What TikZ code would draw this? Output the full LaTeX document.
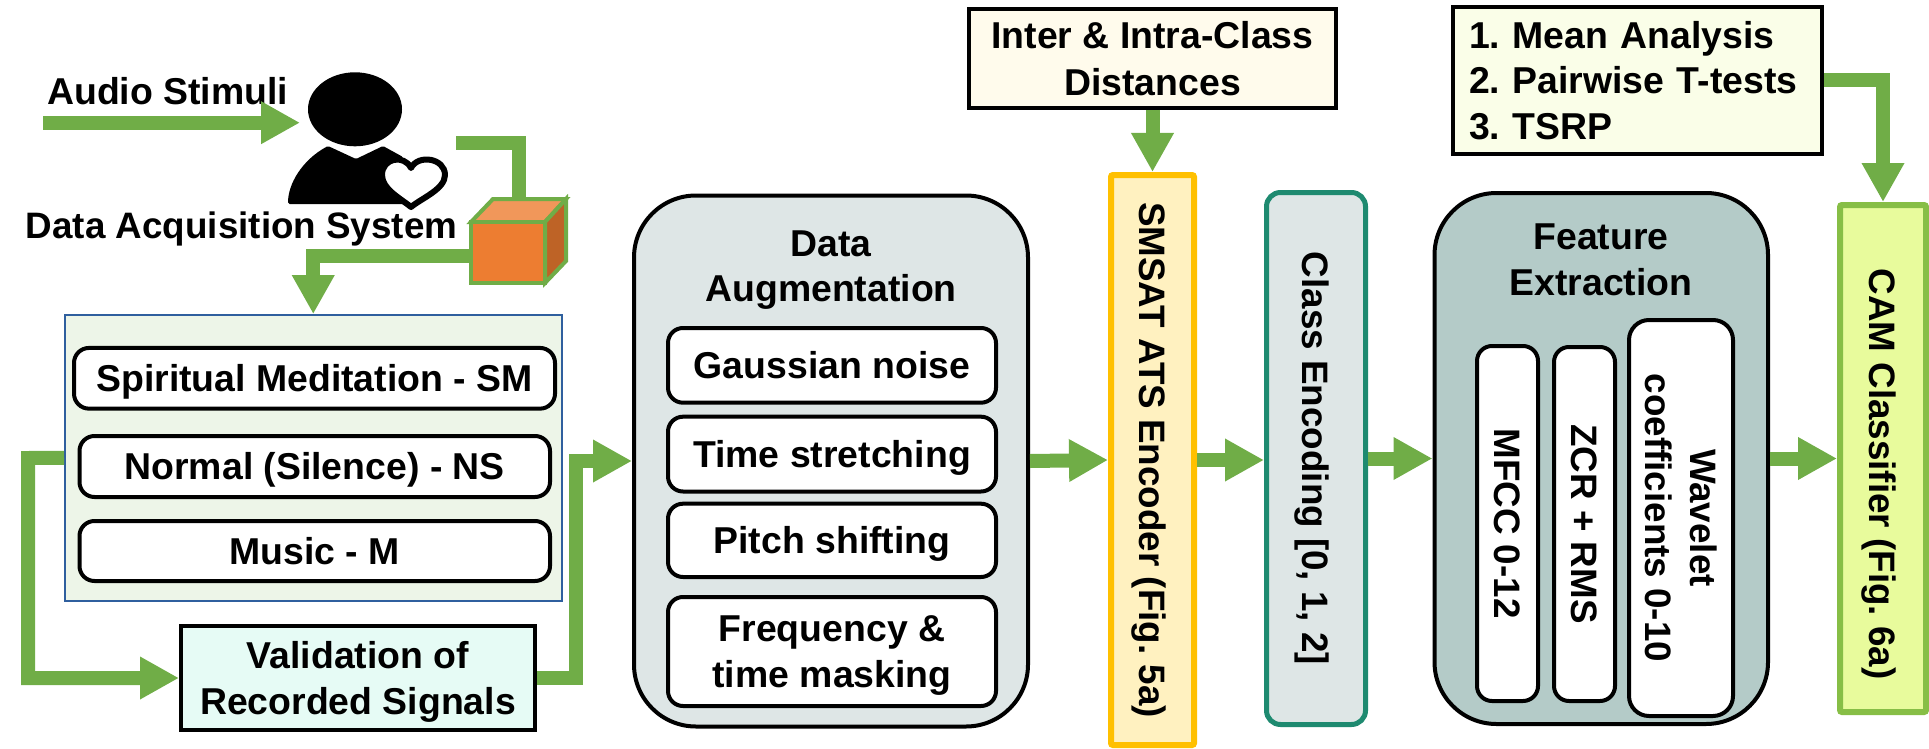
\documentclass[tikz,border=0pt]{standalone}
\usepackage{fontspec}
\setmainfont{Liberation Sans}
\usetikzlibrary{arrows.meta,shapes.geometric}
\newcommand\lab{\fontsize{37.4}{45.5}\selectfont\bfseries\frenchspacing}
\newcommand\labv{\fontsize{36.8}{45}\selectfont\bfseries\frenchspacing}
\newcommand\nodp[1]{\raisebox{0pt}[\height][0pt]{#1}}
\definecolor{garr}{HTML}{70AD47}
\definecolor{grayfill}{HTML}{DEE6E6}
\tikzset{
  garrow/.style={draw=garr,line width=14pt,line join=miter,-{Triangle[length=39pt,width=40pt]}},
  gline/.style={draw=garr,line width=14pt,line join=miter},
  txt/.style={font=\lab,inner sep=0pt,align=center,text=black},
  onel/.style={text height=26.8pt,text depth=0pt},
  plainlab/.style={font=\lab,inner sep=0pt,text=black},
  whitebox/.style={txt,draw=black,line width=4pt,fill=white,rounded corners=15pt},
  sqbox/.style={txt,draw=black,line width=4pt},
  bigbox/.style={txt,draw=black,line width=4pt,rounded corners=62pt},
  vert/.style={rotate=-90}
}
\begin{document}
\begin{tikzpicture}[x=1pt,y=-1pt]
\useasboundingbox (0,0) rectangle (1929,749);

% Person
\node[plainlab,anchor=base west] (audio) at (47,105) {Audio Stimuli};
\node[ellipse,fill=black,inner sep=0pt,minimum width=94pt,minimum height=74pt] (head) at (355,109.3) {};
\fill[black,rounded corners=1.5pt] (288,204) .. controls (288,184) and (302,160) .. (328,146) -- (356,159) -- (383,146) -- (403,157) -- (410,204) -- cycle;
\draw[black,fill=white,line width=6pt,line join=round] (411,207) .. controls (400,198) and (382,189) .. (382,175) .. controls (382,158) and (404,154) .. (411,168) .. controls (418,154) and (445,158) .. (445,175) .. controls (445,189) and (422,198) .. (411,207) -- cycle;
\node[plainlab,font=\labv,anchor=base west] (das) at (25.7,238) {Data Acquisition System};

% Cube
\fill[draw=garr,line width=4pt,fill={rgb,255:red,241;green,151;blue,90},line join=miter] (471,222) -- (493,199) -- (566,199) -- (545,222) -- cycle;
\fill[draw=garr,line width=4pt,fill={rgb,255:red,190;green,99;blue,38},line join=miter] (545,222) -- (566,199) -- (566,261) -- (545,283) -- cycle;
\node[draw=garr,line width=4pt,fill={rgb,255:red,237;green,125;blue,49},inner sep=0pt,minimum width=74pt,minimum height=61pt] (cubefront) at (508,252.5) {};
\coordinate (cubetop) at (518.5,199);
\coordinate (cubeout) at (471,256);
\coordinate (bodyout) at (456,142.7);
\coordinate (audiostart) at (43,122.7);
\coordinate (audioend) at (300,122.7);

% Class group
\node[draw={rgb,255:red,47;green,95;blue,158},line width=1.5pt,fill={rgb,255:red,237;green,245;blue,232},inner sep=0pt,minimum width=497pt,minimum height=286pt] (group) at (313.25,457.85) {};
\node[whitebox,onel,minimum width=481pt,minimum height=60.7pt] (sm) at (314.5,378.3) {Spiritual Meditation - SM};
\node[whitebox,onel,minimum width=470.5pt,minimum height=61pt] (ns) at (314.75,466.5) {Normal (Silence) - NS};
\node[whitebox,onel,minimum width=470.5pt,minimum height=60pt] (music) at (314.75,551) {Music - M};
\node[sqbox,fill={rgb,255:red,230;green,251;blue,245},minimum width=354pt,minimum height=104pt] (valid) at (358,678) {Validation of\\\nodp{Recorded Signals}};

% Augmentation
\node[bigbox,fill=grayfill,minimum width=394pt,minimum height=531pt] (aug) at (831,461) {};
\node[txt] (augt) at (831,266) {Data\\\nodp{Augmentation}};
\node[whitebox,onel,minimum width=328pt,minimum height=74.7pt] (gauss) at (832,365.35) {Gaussian noise};
\node[whitebox,onel,minimum width=328pt,minimum height=74.8pt] (time) at (832,454.1) {Time stretching};
\node[whitebox,onel,minimum width=328pt,minimum height=73.3pt] (pitch) at (832,540.35) {Pitch shifting};
\node[whitebox,minimum width=328pt,minimum height=109pt] (freq) at (832,651.5) {Frequency \&\\\nodp{time masking}};

% Top boxes
\node[sqbox,fill={rgb,255:red,255;green,251;blue,236},minimum width=367pt,minimum height=99pt] (inter) at (1152.5,58.5) {Inter \& Intra-Class\\[2pt]Distances};
\node[sqbox,fill={rgb,255:red,250;green,254;blue,232},text width=337pt,inner xsep=16pt,inner ysep=0pt,align=left,minimum height=147pt] (stat) at (1637.5,80.5) {1. Mean Analysis\\2. Pairwise T-tests\\3. TSRP};

% Vertical boxes
\node[txt,font=\labv,onel,vert,draw={rgb,255:red,255;green,192;blue,0},fill={rgb,255:red,255;green,241;blue,192},line width=6pt,rounded corners=2pt,minimum width=570pt,minimum height=83pt] (smsat) at (1152.5,460) {\nodp{SMSAT ATS Encoder (Fig. 5a)}};
\node[txt,font=\labv,onel,vert,draw={rgb,255:red,30;green,138;blue,112},fill=grayfill,line width=5pt,rounded corners=14pt,minimum width=532pt,minimum height=99pt] (enc) at (1316,458.5) {\nodp{Class Encoding [0, 1, 2]}};
\node[bigbox,fill={rgb,255:red,180;green,203;blue,200},minimum width=333.5pt,minimum height=531pt] (feat) at (1601.25,458.5) {};
\node[txt] (featt) at (1601,260) {Feature\\Extraction};
\node[whitebox,font=\labv,onel,vert,minimum width=355pt,minimum height=61pt] (mfcc) at (1507.5,523.5) {MFCC 0-12};
\node[whitebox,font=\labv,onel,vert,minimum width=354pt,minimum height=61pt] (zcr) at (1584.5,524) {ZCR + RMS};
\node[whitebox,font=\labv,vert,rounded corners=20pt,minimum width=396pt,minimum height=104pt] (wave) at (1681,518) {Wavelet\\coefficients 0-10};
\node[vert,draw={rgb,255:red,135;green,190;blue,70},fill={rgb,255:red,232;green,251;blue,156},line width=6pt,rounded corners=2pt,inner sep=0pt,minimum width=507pt,minimum height=86pt] (cam) at (1883,458.5) {};
\node[txt,font=\labv,onel,vert] (camt) at (1883,474) {\nodp{CAM Classifier (Fig. 6a)}};

% Connectors
\coordinate (lbend) at (28,458);
\coordinate (rbend) at (576,461);
\draw[garrow] (audiostart) -- (audioend);
\draw[gline] (bodyout) -| (cubetop);
\draw[garrow] (cubeout) -| (group.north);
\draw[garrow] (group.west) -- (lbend) |- (valid.west);
\draw[garrow] (valid.east) -| (rbend) -- (aug.west);
\draw[garrow] (aug.east) -- (smsat.south);
\draw[garrow] (inter.south) -- (smsat.west);
\draw[garrow] (smsat.north) -- (smsat.north -| enc.south);
\draw[garrow] (enc.north) -- (feat.west);
\draw[garrow] (feat.east) -- (cam.south);
\draw[garrow] (stat.east) -| (cam.west);
\end{tikzpicture}
\end{document}
